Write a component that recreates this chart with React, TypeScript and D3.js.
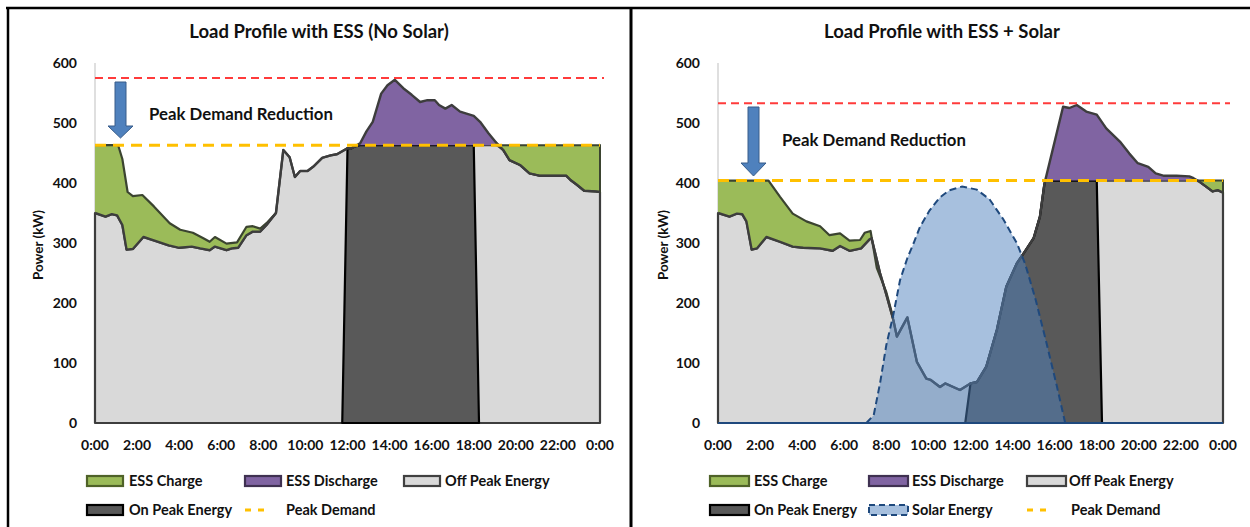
import React from 'react';
import * as d3 from 'd3';

type P = [number, number];

// ---------- shared axis data ----------
const HOUR_TICKS = [0, 2, 4, 6, 8, 10, 12, 14, 16, 18, 20, 22, 24];
const HOUR_LABELS = ['0:00', '2:00', '4:00', '6:00', '8:00', '10:00', '12:00', '14:00', '16:00', '18:00', '20:00', '22:00', '0:00'];
const KW_TICKS = [0, 100, 200, 300, 400, 500, 600];
const ON_PEAK_WINDOW: P = [12, 18];
const DATA_STEP = 0.25;

// ---------- left chart: ESS, no solar ----------
const leftLoad: P[] = [
  [0, 350], [0.5, 344], [0.8, 348], [1.05, 346], [1.3, 330], [1.5, 289], [1.8, 290], [2.3, 310], [2.9, 303],
  [3.5, 296], [4.0, 292], [4.6, 294], [5.0, 291], [5.45, 288], [5.7, 294], [6.25, 288], [6.5, 291], [6.8, 292],
  [7.2, 313], [7.5, 319], [7.85, 319], [8.15, 330], [8.6, 350], [8.95, 455], [9.25, 443], [9.5, 410], [9.75, 420],
  [10.1, 420], [10.4, 428], [10.8, 442], [11.2, 446], [11.5, 448], [12.0, 458], [12.15, 457], [12.35, 461],
  [12.6, 466], [12.9, 486], [13.2, 502], [13.6, 549], [13.9, 563], [14.25, 572], [14.65, 558], [15.05, 547],
  [15.45, 535], [15.8, 538], [16.15, 538], [16.35, 530], [16.65, 524], [16.95, 530], [17.35, 519], [18.0, 512],
  [18.3, 502], [18.7, 483], [19.1, 466], [19.4, 455], [19.7, 438], [20.2, 430], [20.65, 416], [21.15, 412],
  [21.8, 412], [22.4, 412], [22.6, 405], [22.9, 397], [23.25, 387], [23.8, 386], [24, 385],
];
const leftChargeTop: P[] = [
  [0, 463], [1.1, 463], [1.3, 440], [1.55, 385], [1.8, 378], [2.25, 380], [2.8, 361], [3.55, 333], [4.05, 322],
  [4.65, 317], [5.15, 308], [5.45, 302], [5.7, 310], [6.25, 299], [6.75, 301], [7.2, 327], [7.5, 328],
  [7.85, 324], [8.15, 333], [8.6, 350],
];
const leftEveningChargeStart = 19.1;
const leftPeakOriginal = 575;
const leftPeakReduced = 463;

// ---------- right chart: ESS + solar ----------
const rightLoad: P[] = [
  [0, 350], [0.55, 344], [0.9, 349], [1.15, 348], [1.35, 336], [1.6, 289], [1.85, 291], [2.3, 310], [2.95, 302],
  [3.55, 294], [4.05, 292], [4.85, 291], [5.45, 287], [5.8, 295], [6.25, 287], [6.8, 291], [7.2, 306], [7.3, 308],
  [7.7, 250], [8.0, 214], [8.33, 172], [8.5, 144], [9.0, 176], [9.45, 102], [9.9, 74], [10.1, 72], [10.55, 60],
  [10.8, 66], [11.5, 55], [12.0, 66], [12.3, 68], [12.75, 94], [13.25, 155], [13.7, 227], [14.2, 266],
  [14.55, 284], [15.0, 308], [15.3, 344], [15.5, 395], [15.55, 404], [16.4, 527], [16.7, 525], [17.05, 530],
  [17.5, 519], [18.0, 514], [18.45, 491], [19.1, 469], [19.55, 449], [19.95, 433], [20.45, 427], [20.8, 416],
  [21.2, 412], [21.8, 412], [22.4, 411], [22.6, 408], [22.85, 403], [23.2, 394], [23.5, 386], [23.75, 388], [24, 384],
];
const rightChargeTop: P[] = [
  [0, 404], [2.4, 404], [2.95, 377], [3.55, 349], [4.2, 336], [4.85, 328], [5.3, 313], [5.8, 316], [6.25, 304],
  [6.75, 305], [6.97, 317], [7.25, 320], [7.55, 258], [8.0, 218], [8.33, 175],
];
const rightSolar: P[] = [
  [7.05, 0], [7.4, 13], [7.7, 66], [8.0, 130], [8.33, 180], [8.65, 238], [9.0, 275], [9.3, 300], [9.6, 327],
  [10.05, 354], [10.55, 376], [11.0, 388], [11.6, 394], [12.3, 389], [12.9, 373], [13.55, 340], [14.2, 300],
  [14.6, 265], [15.1, 205], [15.6, 135], [16.1, 62], [16.5, 0],
];
const rightEveningChargeStart = 22.85;
const rightPeakOriginal = 533;
const rightPeakReduced = 404;

// ---------- styles ----------
const FONT = "Lato, 'Open Sans', 'DejaVu Sans', sans-serif";
const C = {
  gray: '#d9d9d9', grayLine: '#3d3d3d', dark: '#595959', green: '#9bbb59', greenLine: '#3b4430',
  purple: '#8064a2', purpleLine: '#2f2936', orange: '#ffc000', red: '#ff3b3b', solar: '#4f81bd',
  solarLine: '#1f497d', text: '#111',
};

type LegendItem = { kind: 'rect' | 'dash' | 'solar'; label: string; fill?: string; stroke?: string; x: number; tx: number; row: number };

type PanelProps = {
  x0: number; x1: number; load: P[]; chargeTop: P[]; eveningStart: number; peak: number; peakOrig: number;
  solar?: P[]; title: string; titleX: number; axisLabelX: number; redEnd: number;
  annot: { x: number; y: number }; arrow: { cx: number; top: number; base: number; tip: number };
  legend: LegendItem[]; legendW: number;
};

function Panel(p: PanelProps) {
  const x = d3.scaleLinear().domain([0, 24]).range([p.x0, p.x1]);
  const y = d3.scaleLinear().domain([0, 600]).range([423, 63]);
  const px = (d: P) => x(d[0]);

  const gray = d3.area<P>().x(px).y0(y(0)).y1(d => y(Math.min(d[1], p.peak)))(p.load) || '';
  const onPts: P[] = [
    [ON_PEAK_WINDOW[0] - DATA_STEP, 0],
    ...p.load.filter(d => d[0] >= ON_PEAK_WINDOW[0] && d[0] <= ON_PEAK_WINDOW[1]).map(d => [d[0], Math.min(d[1], p.peak)] as P),
    [ON_PEAK_WINDOW[1] + DATA_STEP, 0],
  ];
  const onPeak = d3.area<P>().x(px).y0(y(0)).y1(d => y(d[1]))(onPts) || '';
  const lastCharge = p.chargeTop[p.chargeTop.length - 1][0];
  const greenPts: P[] = [...p.chargeTop, ...p.load.filter(d => d[0] <= lastCharge).slice().reverse()];
  const line = d3.line<P>().x(px).y(d => y(d[1]));
  const greenMorning = (line(greenPts) || '') + 'Z';
  const greenEvening = d3.area<P>().x(px).y0(d => y(d[1])).y1(y(p.peak))(p.load.filter(d => d[0] >= p.eveningStart)) || '';
  const purple = d3.area<P>().x(px).y0(y(p.peak)).y1(d => y(Math.max(d[1], p.peak)))(p.load) || '';
  const loadLine = line(p.load) || '';
  const chargeLine = line(p.chargeTop) || '';
  const solarArea = p.solar ? d3.area<P>().x(px).y0(y(0)).y1(d => y(d[1]))(p.solar) || '' : '';
  const solarLine = p.solar ? line(p.solar) || '' : '';

  const a = p.arrow;
  const arrowPath = `M${a.cx - 5.5},${a.top} L${a.cx + 5.5},${a.top} L${a.cx + 5.5},${a.base} L${a.cx + 12.5},${a.base} L${a.cx},${a.tip} L${a.cx - 12.5},${a.base} L${a.cx - 5.5},${a.base} Z`;

  return (
    <g fontFamily={FONT}>
      <text x={p.titleX} y={38} textAnchor="middle" fontWeight={700} fontSize={18.5} fill={C.text}>{p.title}</text>
      {/* y axis line */}
      <line x1={p.x0} x2={p.x0} y1={y(600)} y2={y(0)} stroke="#bfbfbf" strokeWidth={1} />
      {KW_TICKS.map(v => (
        <text key={v} x={p.x0 - 18} y={y(v) + 5} textAnchor="end" fontWeight={700} fontSize={14} fill={C.text}>{v}</text>
      ))}
      {HOUR_TICKS.map((t, i) => (
        <text key={i} x={x(t)} y={450} textAnchor="middle" fontWeight={700} fontSize={14} fill={C.text}>{HOUR_LABELS[i]}</text>
      ))}
      <text transform={`translate(${p.axisLabelX},245) rotate(-90)`} textAnchor="middle" fontWeight={700} fontSize={13.5} fill={C.text}>Power (kW)</text>

      <path d={gray} fill={C.gray} stroke={C.grayLine} strokeWidth={2.2} strokeLinejoin="round" />
      <path d={onPeak} fill={C.dark} stroke="#000" strokeWidth={2.2} strokeLinejoin="round" />
      <path d={greenMorning} fill={C.green} stroke="none" />
      <path d={greenEvening} fill={C.green} stroke={C.greenLine} strokeWidth={2} />
      <path d={purple} fill={C.purple} stroke="none" />
      <path d={chargeLine} fill="none" stroke={C.greenLine} strokeWidth={2.2} strokeLinejoin="round" />
      <path d={loadLine} fill="none" stroke={C.grayLine} strokeWidth={2.4} strokeLinejoin="round" />
      {p.solar && (
        <>
          <path d={solarArea} fill={C.solar} fillOpacity={0.5} stroke="none" />
          <path d={solarLine} fill="none" stroke={C.solarLine} strokeWidth={2} strokeDasharray="7,4" />
          <line x1={p.x0} x2={p.x1} y1={y(0)} y2={y(0)} stroke={C.solarLine} strokeWidth={2.2} />
        </>
      )}
      <line x1={p.x0} x2={p.x1} y1={y(p.peak)} y2={y(p.peak)} stroke={C.orange} strokeWidth={3} strokeDasharray="11,7" />
      <line x1={p.x0} x2={p.redEnd} y1={y(p.peakOrig)} y2={y(p.peakOrig)} stroke={C.red} strokeWidth={2} strokeDasharray="8,5" />
      <path d={arrowPath} fill="#4f81bd" stroke="#385d8a" strokeWidth={1} />
      <text x={p.annot.x} y={p.annot.y} fontWeight={700} fontSize={16.8} fill={C.text}>Peak Demand Reduction</text>

      {p.legend.map((it, i) => {
        const cy = it.row === 0 ? 481 : 510;
        return (
          <g key={i}>
            {it.kind === 'rect' && (
              <rect x={it.x} y={cy - 5} width={p.legendW} height={10} fill={it.fill} stroke={it.stroke} strokeWidth={2.2} />
            )}
            {it.kind === 'solar' && (
              <rect x={it.x} y={cy - 5} width={p.legendW} height={10} fill={C.solar} fillOpacity={0.5} stroke={C.solarLine} strokeWidth={2} strokeDasharray="6,4" />
            )}
            {it.kind === 'dash' && (
              <line x1={it.x} x2={it.x + 19} y1={cy} y2={cy} stroke={C.orange} strokeWidth={3} strokeDasharray="6,7" />
            )}
            <text x={it.tx} y={cy + 5} fontSize={14.5} fontWeight={700} fill={C.text}>{it.label}</text>
          </g>
        );
      })}
    </g>
  );
}

const leftLegend: LegendItem[] = [
  { kind: 'rect', label: 'ESS Charge', fill: C.green, stroke: '#4f6228', x: 87, tx: 129, row: 0 },
  { kind: 'rect', label: 'ESS Discharge', fill: C.purple, stroke: '#3f3151', x: 245, tx: 286, row: 0 },
  { kind: 'rect', label: 'Off Peak Energy', fill: C.gray, stroke: '#404040', x: 404, tx: 445, row: 0 },
  { kind: 'rect', label: 'On Peak Energy', fill: C.dark, stroke: '#000', x: 87, tx: 129, row: 1 },
  { kind: 'dash', label: 'Peak Demand', x: 245, tx: 286, row: 1 },
];
const rightLegend: LegendItem[] = [
  { kind: 'rect', label: 'ESS Charge', fill: C.green, stroke: '#4f6228', x: 710, tx: 754, row: 0 },
  { kind: 'rect', label: 'ESS Discharge', fill: C.purple, stroke: '#3f3151', x: 869, tx: 912, row: 0 },
  { kind: 'rect', label: 'Off Peak Energy', fill: C.gray, stroke: '#404040', x: 1027, tx: 1069, row: 0 },
  { kind: 'rect', label: 'On Peak Energy', fill: C.dark, stroke: '#000', x: 710, tx: 754, row: 1 },
  { kind: 'solar', label: 'Solar Energy', x: 869, tx: 912, row: 1 },
  { kind: 'dash', label: 'Peak Demand', x: 1027, tx: 1071, row: 1 },
];

export default function App() {
  return (
    <svg width={1250} height={527} style={{ position: 'absolute', left: 0, top: 0, background: '#fff' }}>
      <rect x={0} y={0} width={1250} height={527} fill="#fff" />
      <Panel
        x0={95} x1={600} load={leftLoad} chargeTop={leftChargeTop} eveningStart={leftEveningChargeStart}
        peak={leftPeakReduced} peakOrig={leftPeakOriginal} title="Load Profile with ESS (No Solar)" titleX={319}
        axisLabelX={43} redEnd={604} annot={{ x: 149, y: 120 }} arrow={{ cx: 120.5, top: 82, base: 126, tip: 138 }}
        legend={leftLegend} legendW={36}
      />
      <Panel
        x0={718} x1={1223} load={rightLoad} chargeTop={rightChargeTop} eveningStart={rightEveningChargeStart}
        peak={rightPeakReduced} peakOrig={rightPeakOriginal} solar={rightSolar} title="Load Profile with ESS + Solar"
        titleX={942} axisLabelX={668} redEnd={1230} annot={{ x: 782, y: 146 }}
        arrow={{ cx: 753.5, top: 107, base: 163, tip: 176 }} legend={rightLegend} legendW={39}
      />
      {/* panel borders */}
      <line x1={6} x2={1250} y1={8} y2={8} stroke="#000" strokeWidth={2.5} />
      <line x1={8} x2={8} y1={7} y2={527} stroke="#000" strokeWidth={2.5} />
      <line x1={631} x2={631} y1={7} y2={527} stroke="#000" strokeWidth={3} />
    </svg>
  );
}
